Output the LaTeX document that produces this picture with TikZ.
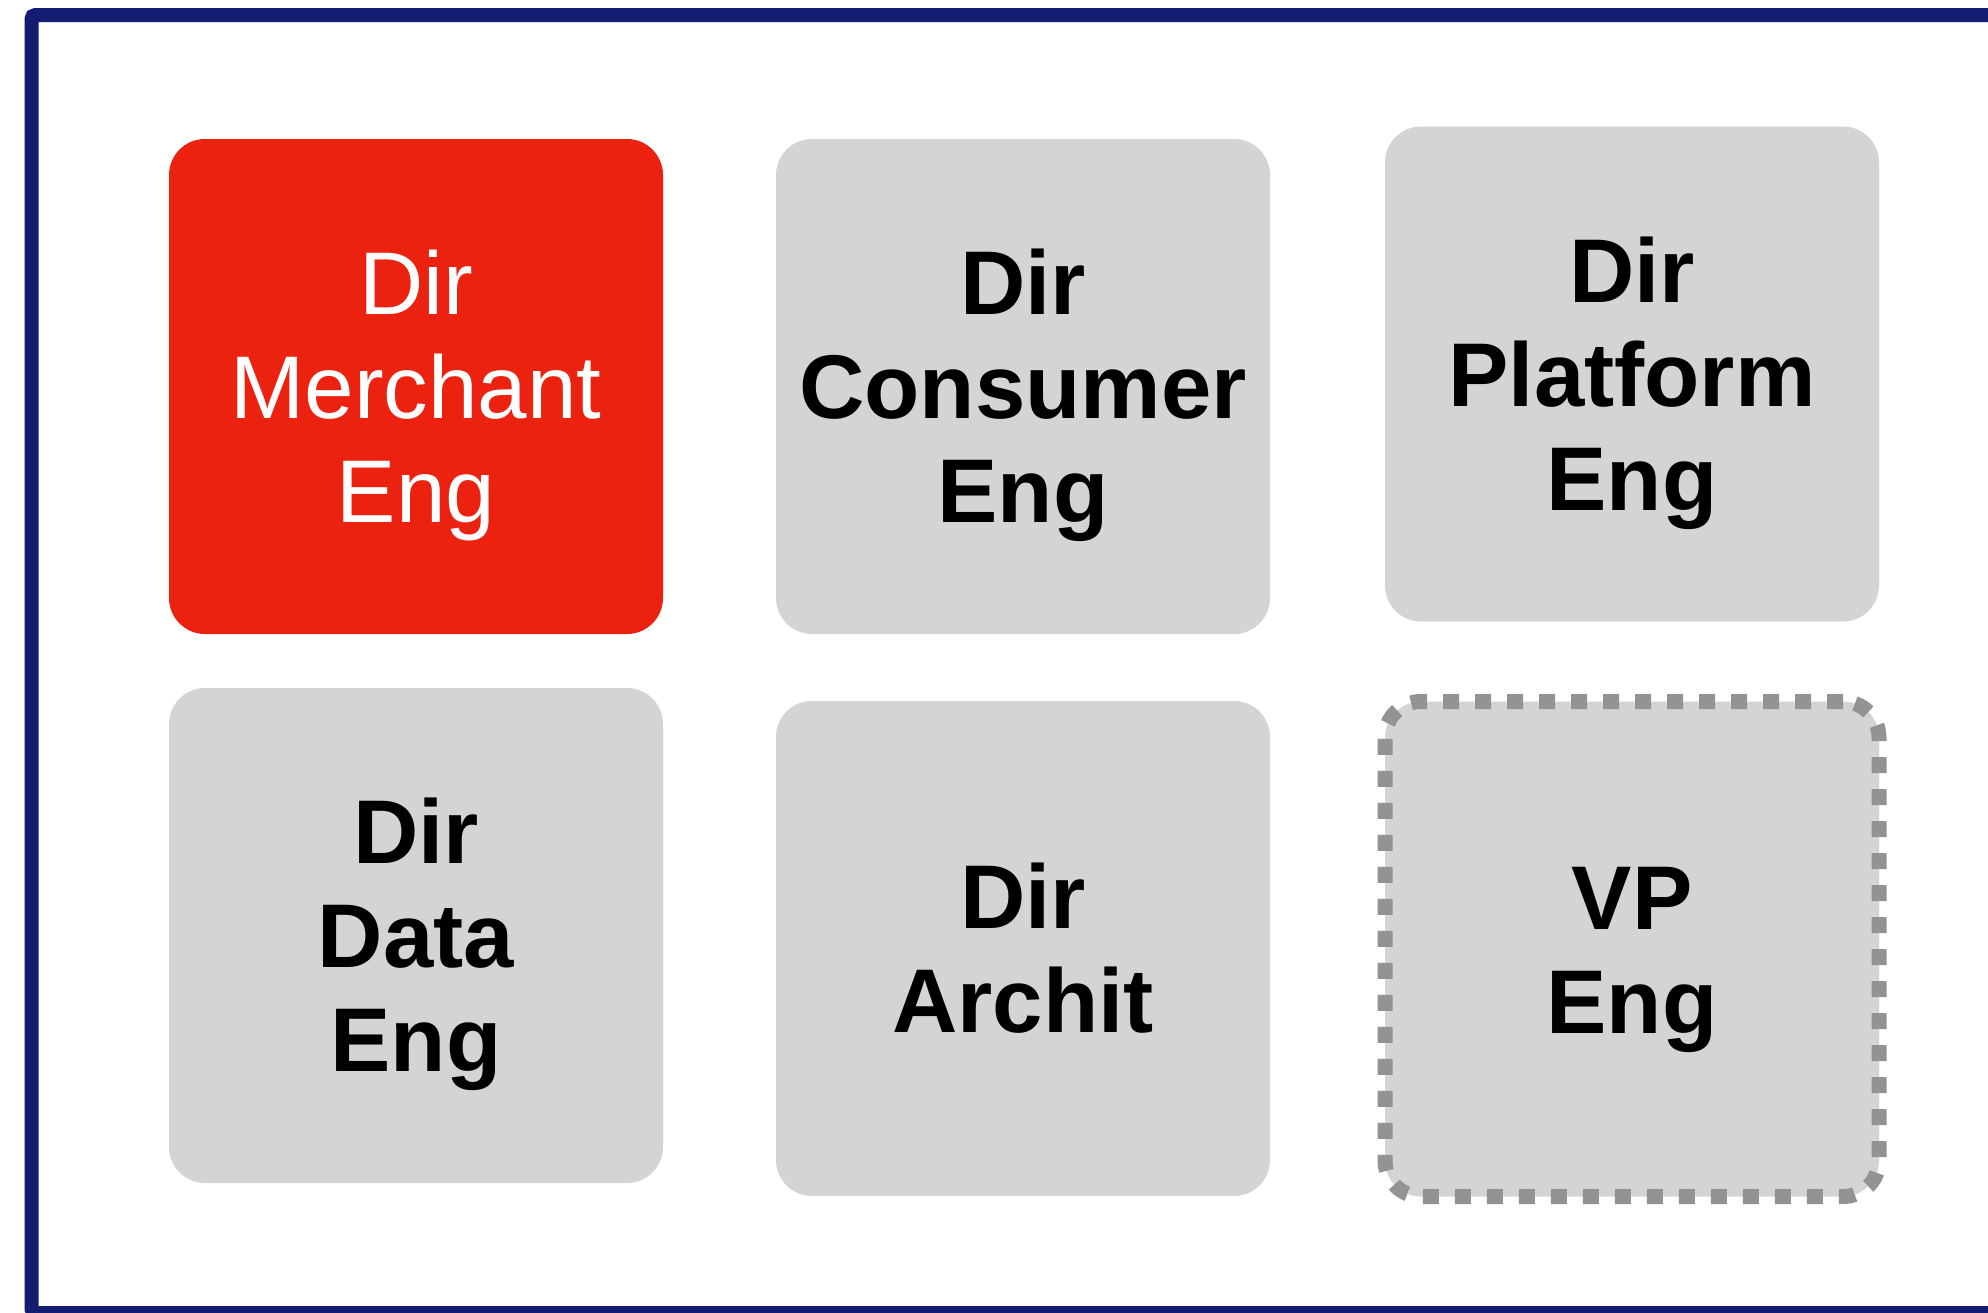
\documentclass[tikz,border=0pt]{standalone}
\usepackage{fontspec}
\setmainfont{Liberation Sans}
\definecolor{framenavy}{HTML}{141C72}
\definecolor{boxgray}{HTML}{D4D4D4}
\definecolor{boxred}{HTML}{EC2210}
\definecolor{dashgray}{HTML}{939393}
\newcommand\lnstrut{\rule[-20pt]{0pt}{104pt}}
\tikzset{
  orgbox/.style={rectangle, rounded corners=36pt, fill=boxgray, minimum width=494pt, minimum height=495pt, inner sep=0pt, align=center, text=black, font=\fontsize{90.5}{104}\selectfont\bfseries},
  hilite/.style={orgbox, fill=boxred, text=white, font=\fontsize{89}{104}\selectfont},
  vacant/.style={orgbox, draw=dashgray, line width=15pt, dash pattern=on 16pt off 16pt},
}
\begin{document}
\begin{tikzpicture}[x=1pt,y=-1pt]
\useasboundingbox (0,0) rectangle (1988,1312);
\fill[white] (0,0) rectangle (1988,1312);
\draw[framenavy, line width=14pt, rounded corners=4pt] (31.5,15) rectangle (2010,1313);
\node[hilite] (merchant) at (416,386.5) {\lnstrut Dir\\\lnstrut Merchant\\\lnstrut Eng};
\node[orgbox] (consumer) at (1023,386.5) {\lnstrut Dir\\\lnstrut Consumer\\\lnstrut Eng};
\node[orgbox] (platform) at (1632,374) {\lnstrut Dir\\\lnstrut Platform\\\lnstrut Eng};
\node[orgbox] (data) at (416,935.5) {\lnstrut Dir\\\lnstrut Data\\\lnstrut Eng};
\node[orgbox] (archit) at (1023,948.5) {\lnstrut Dir\\\lnstrut Archit};
\node[vacant] (vp) at (1632,949) {\lnstrut VP\\\lnstrut Eng};
\end{tikzpicture}
\end{document}
